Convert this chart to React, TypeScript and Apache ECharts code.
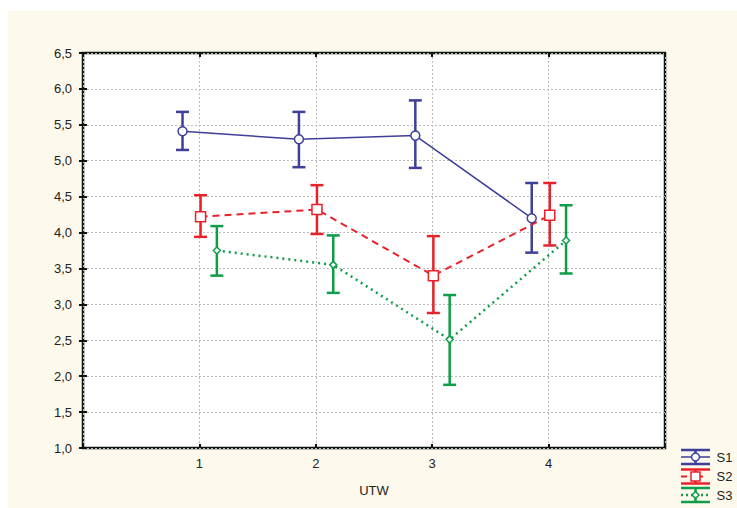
import React, { useEffect, useRef } from "react";
import * as echarts from "echarts";

const categories = [1, 2, 3, 4];
const seriesNames = ["S1", "S2", "S3"];
const s1Mean = [5.41, 5.3, 5.35, 4.2];
const s1Upper = [5.68, 5.68, 5.84, 4.69];
const s1Lower = [5.15, 4.91, 4.9, 3.72];
const s2Mean = [4.22, 4.32, 3.4, 4.24];
const s2Upper = [4.52, 4.66, 3.95, 4.69];
const s2Lower = [3.94, 3.98, 2.88, 3.82];
const s3Mean = [3.75, 3.55, 2.51, 3.89];
const s3Upper = [4.09, 3.96, 3.13, 4.38];
const s3Lower = [3.4, 3.16, 1.88, 3.43];
const xOffsets = [-0.145, 0.01, 0.15];
const colors = ["#3d3f99", "#e8222b", "#0e9d48"];
const xAxisTitle = "UTW";

const means = [s1Mean, s2Mean, s3Mean];
const uppers = [s1Upper, s2Upper, s3Upper];
const lowers = [s1Lower, s2Lower, s3Lower];

const fmt = (v: number) => v.toFixed(1).replace(".", ",");

export default function App() {
  const ref = useRef<HTMLDivElement>(null);
  useEffect(() => {
    if (!ref.current) return;
    const chart = echarts.init(ref.current, undefined, { renderer: "svg" });

    const lineSeries: any[] = [];
    const errSeries: any[] = [];
    const symbols = ["circle", "rect", "diamond"];
    const symbolSizes = [9, 10, 7];
    const lineTypes: any[] = ["solid", [7, 5], [2, 4]];
    const lineWidths = [1.5, 2, 2.5];

    for (let s = 0; s < 3; s++) {
      const pts = categories.map((c, i) => [c + xOffsets[s], means[s][i]]);
      const errs = categories.map((c, i) => [c + xOffsets[s], lowers[s][i], uppers[s][i]]);
      const col = colors[s];
      errSeries.push({
        type: "custom",
        name: seriesNames[s] + " err",
        z: 2,
        data: errs,
        encode: { x: 0, y: [1, 2] },
        renderItem: (params: any, api: any) => {
          const x = api.value(0);
          const lo = api.coord([x, api.value(1)]);
          const hi = api.coord([x, api.value(2)]);
          const half = 6.5;
          const st = { stroke: col, lineWidth: 2.5 };
          return {
            type: "group",
            children: [
              { type: "line", shape: { x1: lo[0], y1: lo[1], x2: hi[0], y2: hi[1] }, style: st },
              { type: "line", shape: { x1: hi[0] - half, y1: hi[1], x2: hi[0] + half, y2: hi[1] }, style: st },
              { type: "line", shape: { x1: lo[0] - half, y1: lo[1], x2: lo[0] + half, y2: lo[1] }, style: st },
            ],
          };
        },
      });
      lineSeries.push({
        type: "line",
        name: seriesNames[s],
        z: 3,
        data: pts,
        symbol: symbols[s],
        symbolSize: symbolSizes[s],
        showAllSymbol: true,
        lineStyle: { color: col, width: lineWidths[s], type: lineTypes[s] },
        itemStyle: { color: "#ffffff", borderColor: col, borderWidth: 1.5 },
      });
    }

    // legend graphics
    const legend: any[] = [];
    const lx1 = 673,
      lx2 = 702,
      lcx = 687.5;
    const lys = [446, 465.5, 484];
    for (let s = 0; s < 3; s++) {
      const y = lys[s];
      const col = colors[s];
      const st = { stroke: col, lineWidth: 2.5 };
      legend.push({ type: "line", shape: { x1: lx1, y1: y - 7, x2: lx2, y2: y - 7 }, style: st });
      legend.push({ type: "line", shape: { x1: lx1, y1: y + 7, x2: lx2, y2: y + 7 }, style: st });
      legend.push({ type: "line", shape: { x1: lcx, y1: y - 7, x2: lcx, y2: y + 7 }, style: st });
      legend.push({
        type: "line",
        shape: { x1: lx1, y1: y, x2: lx2, y2: y },
        style: { stroke: col, lineWidth: lineWidths[s], lineDash: s === 0 ? null : s === 1 ? [6, 10] : [2, 3] },
      });
      if (s === 0) {
        legend.push({ type: "circle", shape: { cx: lcx, cy: y, r: 4 }, style: { fill: "#fff", stroke: col, lineWidth: 1.5 } });
      } else if (s === 1) {
        legend.push({ type: "rect", shape: { x: lcx - 4.5, y: y - 4.5, width: 9, height: 9 }, style: { fill: "#fff", stroke: col, lineWidth: 1.5 } });
      } else {
        legend.push({
          type: "polygon",
          shape: { points: [[lcx, y - 3.5], [lcx + 3.5, y], [lcx, y + 3.5], [lcx - 3.5, y]] },
          style: { fill: "#fff", stroke: col, lineWidth: 1.5 },
        });
      }
      legend.push({
        type: "text",
        x: 708.5,
        y: y,
        style: { text: seriesNames[s], fill: "#222", font: "13px Arial, 'Liberation Sans', sans-serif", textVerticalAlign: "middle" },
      });
    }

    const labelStyle = { color: "#222", fontSize: 13, fontFamily: "Arial, 'Liberation Sans', sans-serif" };
    const splitLine = { show: true, lineStyle: { color: "#bdbdbd", type: [2, 2], width: 1 } };
    const tickStyle = { show: true, inside: true, length: 4, lineStyle: { color: "#111", width: 2 } };

    chart.setOption({
      animation: false,
      backgroundColor: "#fdf9ec",
      grid: {
        left: 75,
        right: 72,
        top: 42,
        bottom: 60,
        show: true,
        backgroundColor: "#ffffff",
        borderColor: "#0c140f",
        borderWidth: 2.5,
      },
      xAxis: [
        {
          type: "value",
          min: 0,
          max: 5,
          interval: 1,
          name: xAxisTitle,
          nameLocation: "middle",
          nameGap: 36,
          nameTextStyle: labelStyle,
          axisLine: { show: false },
          axisTick: tickStyle,
          axisLabel: {
            ...labelStyle,
            margin: 9,
            formatter: (v: number) => (categories.indexOf(v) >= 0 ? String(v) : ""),
          },
          splitLine,
        },
        {
          type: "value",
          position: "top",
          min: 0,
          max: 5,
          interval: 1,
          axisLine: { show: false },
          axisTick: tickStyle,
          axisLabel: { show: false },
          splitLine: { show: false },
        },
      ],
      yAxis: [
        {
          type: "value",
          min: 1,
          max: 6.5,
          interval: 0.5,
          axisLine: { show: false },
          axisTick: tickStyle,
          axisLabel: { ...labelStyle, margin: 11, formatter: fmt },
          splitLine,
        },
        {
          type: "value",
          position: "right",
          min: 1,
          max: 6.5,
          interval: 0.5,
          axisLine: { show: false },
          axisTick: tickStyle,
          axisLabel: { show: false },
          splitLine: { show: false },
        },
      ],
      graphic: legend,
      series: [...errSeries, ...lineSeries],
    });
    return () => chart.dispose();
  }, []);

  return (
    <div style={{ position: "absolute", left: 0, top: 0, width: 737, height: 508, background: "#ffffff" }}>
      <div ref={ref} style={{ position: "absolute", left: 8, top: 11, width: 729, height: 497 }} />
    </div>
  );
}
